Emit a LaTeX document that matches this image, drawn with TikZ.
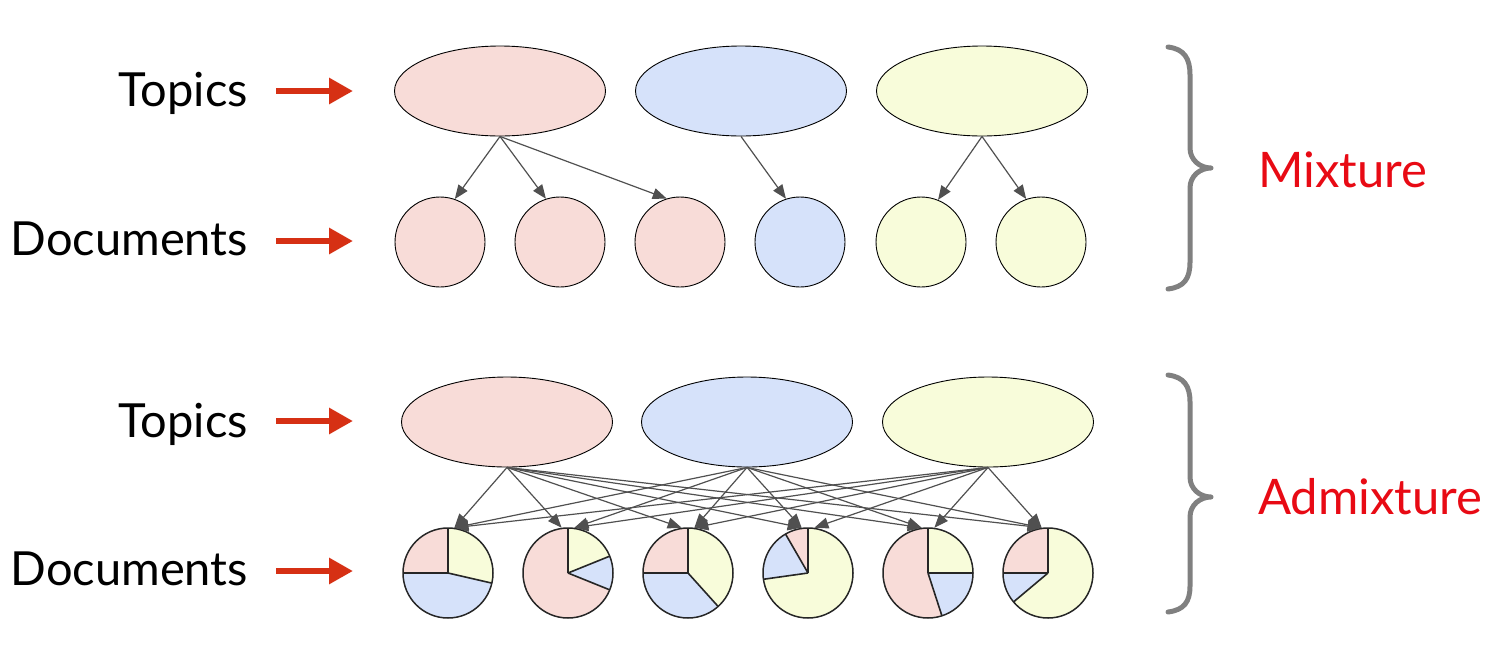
\documentclass[tikz,border=0pt]{standalone}
\usepackage{fontspec}
\setmainfont{Lato}
\usetikzlibrary{arrows.meta,shapes.geometric}
\definecolor{pinkc}{RGB}{248,220,216}
\definecolor{bluec}{RGB}{214,226,250}
\definecolor{yellowc}{RGB}{248,252,218}
\definecolor{edgec}{RGB}{80,80,80}
\definecolor{arrred}{RGB}{214,48,20}
\definecolor{labred}{RGB}{232,10,20}
\definecolor{bracec}{RGB}{128,128,128}
\tikzset{
  topicnode/.style={ellipse,draw=black,line width=0.9pt,minimum width=211pt,minimum height=90pt,inner sep=0pt},
  docnode/.style={circle,draw=black,line width=0.9pt,minimum size=90pt,inner sep=0pt},
  pienode/.style={circle,draw=black!85,line width=1.5pt,minimum size=90pt,inner sep=0pt},
  edge/.style={draw=edgec,line width=1.2pt,-{Triangle[length=14pt,width=11pt]}},
  redarrow/.style={draw=arrred,line width=6pt,-{Triangle[length=24pt,width=25pt]}},
  lab/.style={font=\fontsize{47}{56}\selectfont,anchor=base east,inner sep=0pt},
  rlab/.style={font=\fontsize{49}{58}\selectfont,text=labred,anchor=base west,inner sep=0pt},
  bracestyle/.style={draw=bracec,line width=5pt,line cap=round,line join=round},
  radius line/.style={draw=black!85,line width=1.6pt}
}
\newcommand{\pslice}[4]{\fill[#4] (#1) -- ++(#2:45pt) arc[start angle=#2,end angle=#3,radius=45pt] -- cycle;}
\begin{document}
\begin{tikzpicture}[x=1pt,y=-1pt]
\useasboundingbox (0,0) rectangle (1509,659);

% ---------- Mixture ----------
\node[lab] (lt1) at (248,106) {Topics};
\node[lab] (ld1) at (248,255) {Documents};
\coordinate (lt1s) at (276,91); \coordinate (lt1e) at (353,91);
\coordinate (ld1s) at (276,241); \coordinate (ld1e) at (353,241);
\draw[redarrow] (lt1s) -- (lt1e);
\draw[redarrow] (ld1s) -- (ld1e);

\node[topicnode,fill=pinkc] (a1) at (500,91) {};
\node[topicnode,fill=bluec] (a2) at (741,91) {};
\node[topicnode,fill=yellowc] (a3) at (982,91) {};

\node[docnode,fill=pinkc] (d1) at (440,242) {};
\node[docnode,fill=pinkc] (d2) at (560,242) {};
\node[docnode,fill=pinkc] (d3) at (680,242) {};
\node[docnode,fill=bluec] (d4) at (800,242) {};
\node[docnode,fill=yellowc] (d5) at (921,242) {};
\node[docnode,fill=yellowc] (d6) at (1041,242) {};

\draw[edge] (a1.south) -- (d1.71);
\draw[edge] (a1.south) -- (d2.108);
\draw[edge] (a1.south) -- (d3.107);
\draw[edge] (a2.south) -- (d4.108);
\draw[edge] (a3.south) -- (d5.68);
\draw[edge] (a3.south) -- (d6.109);

\coordinate (m1) at (1168,47);
\coordinate (m2) at (1168,289);
\coordinate (mt) at (1211,168);
\draw[bracestyle] (m1) .. controls (1184,49) and (1190,58) .. (1190,75)
  -- (1190,148) .. controls (1190,160) and (1200,168) .. (mt)
  .. controls (1200,168) and (1190,176) .. (1190,188)
  -- (1190,262) .. controls (1190,279) and (1184,287) .. (m2);
\node[rlab] (mix) at (1258,187) {Mixture};

% ---------- Admixture ----------
\node[lab] (lt2) at (248,437) {Topics};
\node[lab] (ld2) at (248,585) {Documents};
\coordinate (lt2s) at (276,421); \coordinate (lt2e) at (353,421);
\coordinate (ld2s) at (276,571); \coordinate (ld2e) at (353,571);
\draw[redarrow] (lt2s) -- (lt2e);
\draw[redarrow] (ld2s) -- (ld2e);

\node[topicnode,fill=pinkc] (b1) at (507,422) {};
\node[topicnode,fill=bluec] (b2) at (747,422) {};
\node[topicnode,fill=yellowc] (b3) at (988,422) {};

% pies
\coordinate (c1) at (448,573);
\coordinate (c2) at (568,573);
\coordinate (c3) at (688,573);
\coordinate (c4) at (808,573);
\coordinate (c5) at (928,573);
\coordinate (c6) at (1048,573);

\pslice{c1}{90}{180}{pinkc}\pslice{c1}{180}{347}{bluec}\pslice{c1}{347}{450}{yellowc}
\pslice{c2}{22}{90}{yellowc}\pslice{c2}{-22}{22}{bluec}\pslice{c2}{90}{338}{pinkc}
\pslice{c3}{90}{180}{pinkc}\pslice{c3}{180}{312}{bluec}\pslice{c3}{312}{450}{yellowc}
\pslice{c4}{90}{120}{pinkc}\pslice{c4}{120}{188}{bluec}\pslice{c4}{188}{450}{yellowc}
\pslice{c5}{0}{90}{yellowc}\pslice{c5}{90}{288}{pinkc}\pslice{c5}{288}{360}{bluec}
\pslice{c6}{90}{180}{pinkc}\pslice{c6}{180}{220}{bluec}\pslice{c6}{220}{450}{yellowc}

\foreach \c/\angs in {c1/{90,180,347},c2/{90,22,-22},c3/{90,180,312},c4/{90,120,188},c5/{90,0,288},c6/{90,180,220}}{
  \foreach \a in \angs { \draw[radius line] (\c) -- ++(\a:45pt); }
}

\node[pienode] (q1) at (c1) {};
\node[pienode] (q2) at (c2) {};
\node[pienode] (q3) at (c3) {};
\node[pienode] (q4) at (c4) {};
\node[pienode] (q5) at (c5) {};
\node[pienode] (q6) at (c6) {};

\foreach \t/\tx in {b1/507,b2/747,b3/988}{
  \foreach \p/\px in {q1/448,q2/568,q3/688,q4/808,q5/928,q6/1048}{
    \pgfmathtruncatemacro\ang{\tx<\px ? 98 : 82}
    \draw[edge] (\t.south) -- (\p.\ang);
  }
}

\coordinate (n1) at (1168,375);
\coordinate (n2) at (1168,612);
\coordinate (nt) at (1211,497);
\draw[bracestyle] (n1) .. controls (1184,377) and (1190,386) .. (1190,402)
  -- (1190,477) .. controls (1190,489) and (1200,497) .. (nt)
  .. controls (1200,497) and (1190,505) .. (1190,517)
  -- (1190,586) .. controls (1190,602) and (1184,610) .. (n2);
\node[rlab] (adm) at (1258,514) {Admixture};
\end{tikzpicture}
\end{document}
